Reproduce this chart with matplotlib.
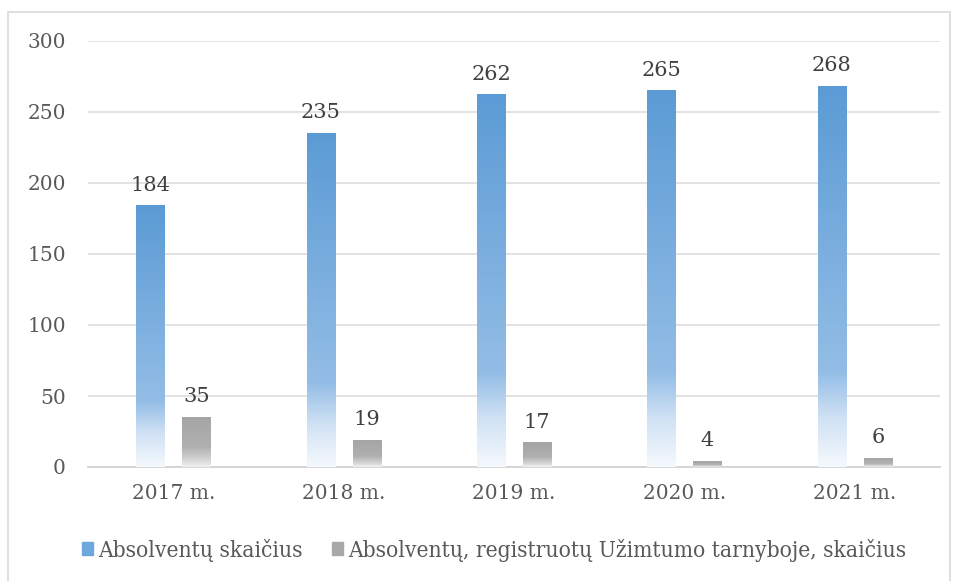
import numpy as np
import matplotlib as mpl
mpl.use('Agg')
import matplotlib.pyplot as plt
from matplotlib.colors import LinearSegmentedColormap
from matplotlib.patches import Rectangle

years = ['2017 m.', '2018 m.', '2019 m.', '2020 m.', '2021 m.']
graduates = [184, 235, 262, 265, 268]
registered = [35, 19, 17, 4, 6]
labels = ['Absolventų skaičius', 'Absolventų, registruotų Užimtumo tarnyboje, skaičius']

plt.rcParams['font.family'] = ['DejaVu Serif']

blue_cmap = LinearSegmentedColormap.from_list('blue', [
    (0.0, '#5b9bd5'), (0.75, '#93bde6'), (0.87, '#cfe1f4'), (1.0, '#f5f9fd')])
gray_cmap = LinearSegmentedColormap.from_list('gray', [
    (0.0, '#a5a5a5'), (0.6, '#b0b0b0'), (0.85, '#d4d4d4'), (1.0, '#f2f2f2')])

fig = plt.figure(figsize=(9.59, 5.81), dpi=100)
ax = fig.add_axes([88/959, 1-467/581, 852/959, 426/581])

x = np.arange(len(years))
w = 0.165
off = 0.135
b1 = ax.bar(x - off, graduates, w, color='none', zorder=3)
b2 = ax.bar(x + off, registered, w, color='none', zorder=3)

grad = np.linspace(0, 1, 256).reshape(-1, 1)
for bars, cmap in ((b1, blue_cmap), (b2, gray_cmap)):
    for r in bars:
        x0, y0 = r.get_x(), r.get_y()
        ax.imshow(grad, cmap=cmap, aspect='auto', origin='upper',
                  extent=(x0, x0 + r.get_width(), y0, y0 + r.get_height()), zorder=3)
    for r in bars:
        ax.annotate(str(int(r.get_height())), (r.get_x() + r.get_width()/2, r.get_height()),
                    xytext=(0, 8), textcoords='offset points', ha='center', va='bottom',
                    fontsize=15, color='#404040')

ax.set_xlim(-0.5, len(years) - 0.5)
ax.set_ylim(0, 300)
ax.set_yticks(range(0, 301, 50))
ax.set_xticks(x)
ax.set_xticklabels(years)
ax.grid(axis='y', color='#dedede', lw=1.2, zorder=0)
ax.set_axisbelow(True)
for s in ['left', 'right', 'top']:
    ax.spines[s].set_visible(False)
ax.spines['bottom'].set_color('#d0d0d0')
ax.spines['bottom'].set_linewidth(1.2)
ax.tick_params(axis='both', length=0, labelsize=14.5, labelcolor='#595959')
ax.tick_params(axis='y', pad=16)
ax.tick_params(axis='x', pad=12)

handles = [Rectangle((0, 0), 1, 1, color='#6ea7db'), Rectangle((0, 0), 1, 1, color='#a8a8a8')]
leg = fig.legend(handles, labels, loc='center', bbox_to_anchor=(494/959, 1-550/581), ncol=2,
                 frameon=False, handlelength=0.5, handleheight=0.5,
                 handletextpad=0.2, columnspacing=1.3, labelcolor='#595959',
                 prop={'stretch': 'condensed', 'size': 16.3})

fig.patches.append(Rectangle((8/959, -0.05), 942/959, 1.05 - 12/581, transform=fig.transFigure,
                             fill=False, edgecolor='#d9d9d9', lw=1.2))

fig.savefig('out.png', dpi=100)
